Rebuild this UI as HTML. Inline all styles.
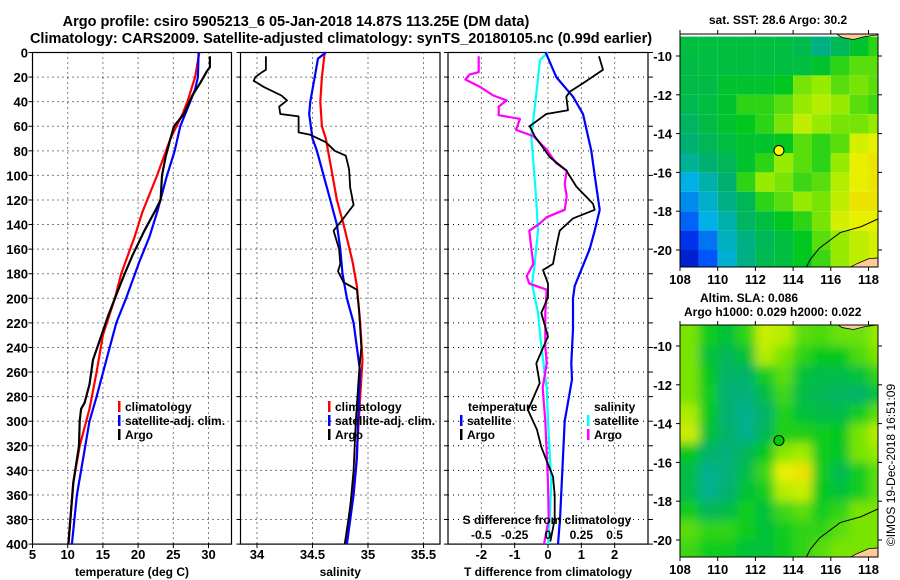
<!DOCTYPE html>
<html><head><meta charset="utf-8"><style>
html,body{margin:0;padding:0;background:#fff;}
svg{display:block;font-family:"Liberation Sans",Arial,sans-serif;font-weight:bold;}
</style></head><body>
<svg id="c" width="900" height="580" viewBox="0 0 900 580" xmlns="http://www.w3.org/2000/svg">
<defs>
<filter id="blur" x="-5%" y="-5%" width="110%" height="110%"><feGaussianBlur stdDeviation="5"/></filter>
<clipPath id="clip1"><rect x="680" y="34" width="198" height="233"/></clipPath>
<clipPath id="clip2"><rect x="680" y="325" width="198" height="232"/></clipPath>
</defs>
<text x="296" y="26" font-size="14.5" text-anchor="middle">Argo profile: csiro 5905213_6 05-Jan-2018 14.87S 113.25E (DM data)</text>
<text x="341" y="43" font-size="14.5" text-anchor="middle">Climatology: CARS2009. Satellite-adjusted climatology: synTS_20180105.nc (0.99d earlier)</text>
<text x="778" y="24" font-size="12" text-anchor="middle">sat. SST: 28.6 Argo: 30.2</text>
<text x="700" y="302" font-size="12">Altim. SLA: 0.086</text>
<text x="684" y="316" font-size="12">Argo h1000: 0.029 h2000: 0.022</text>
<text transform="translate(895,465) rotate(-90)" font-size="12" font-weight="normal" text-anchor="middle">©IMOS 19-Dec-2018 16:51:09</text>
<g id="g"></g>
</svg>
<script>
// ---------- data ----------
const depthTicks = [0,20,40,60,80,100,120,140,160,180,200,220,240,260,280,300,320,340,360,380,400];
const tTicks = [5,10,15,20,25,30];
const sTicks = [34,34.5,35,35.5];
const dtTicks = [-2,-1,0,1,2];
const dsTicks = [-0.5,-0.25,0,0.25,0.5];
const dsTickLabels = ['-0.5','-0.25','0','0.25','0.5'];

const climTdepth = [0,20,40,50,70,100,130,150,180,200,230,260,290,320,350,400];
const climT = [28.7,28.1,27.0,26.3,24.6,22.7,20.6,19.5,17.6,16.7,15.0,14.1,13.1,11.7,10.8,10.1];
const satTdepth = [0,20,30,40,60,80,100,130,150,170,200,220,250,280,300,330,360,400];
const satT = [28.6,28.5,28.1,27.4,26.0,25.2,24.1,22.7,21.6,20.2,18.3,16.9,15.5,14.1,13.1,12.2,11.3,10.6];
const argoTdepth = [3,12,15,25,35,50,60,70,85,100,120,128,145,165,180,200,215,230,250,270,285,290,300,320,350,400];
const argoT = [30.2,30.2,29.8,28.8,27.7,26.5,25.1,24.6,23.9,23.4,23.2,22.5,20.9,19.2,18.1,16.7,15.7,14.8,13.6,13.1,12.4,11.9,11.7,11.6,10.8,10.1];

const climSdepth = [0,20,40,60,70,90,120,140,170,190,220,250,280,310,340,370,400];
const climS = [34.61,34.585,34.57,34.585,34.62,34.66,34.72,34.78,34.86,34.9,34.93,34.95,34.93,34.91,34.89,34.84,34.8];
const satSdepth = [0,5,20,40,50,70,80,100,120,140,160,180,200,220,240,260,300,330,360,400];
const satS = [34.62,34.55,34.52,34.48,34.47,34.5,34.54,34.6,34.66,34.72,34.75,34.77,34.81,34.87,34.9,34.93,34.91,34.9,34.87,34.81];
const argoSdepth = [3,14,16,20,23,28,35,39,44,50,52,65,67,73,80,84,95,110,124,136,145,160,172,178,187,193,210,240,260,300,340,370,400];
const argoS = [34.08,34.08,34.045,33.985,33.97,34.06,34.22,34.27,34.2,34.21,34.375,34.375,34.48,34.62,34.7,34.8,34.83,34.84,34.87,34.77,34.69,34.74,34.75,34.73,34.78,34.9,34.92,34.94,34.92,34.89,34.87,34.84,34.79];

const dTsatDepth = [0,20,36,50,80,100,128,145,160,180,190,200,225,253,266,300,380,400];
const dTsat = [-0.07,0.25,0.75,1.05,1.3,1.4,1.55,1.4,1.25,0.95,0.8,0.75,0.75,0.7,0.72,0.5,0.36,0.3];
const dTargoDepth = [3,14,25,32,36,47,50,60,68,85,96,109,123,128,135,145,158,172,177,188,199,212,231,253,269,291,307,321,335,345,360,380,398];
const dTargo = [1.53,1.65,1.05,0.65,0.55,0.6,-0.05,-0.55,-0.4,0.05,0.55,0.85,1.35,1.4,0.75,0.35,0.25,0.15,-0.15,0,0,-0.2,0,-0.35,-0.25,-0.6,-0.33,-0.2,0,0.15,0.2,0.2,0.07];
const dSsatDepth = [0,6,36,68,117,145,172,188,212,239,273,300,350,380,400];
const dSsat = [0,-0.06,-0.09,-0.125,-0.09,-0.075,-0.1,-0.12,-0.075,-0.05,-0.01,0,0.025,0.012,0];
const dSargoDepth = [3,16,18,22,28,35,39,44,51,54,63,68,79,90,96,107,117,128,134,139,145,155,172,182,188,193,212,239,253,273,300,350,380,400];
const dSargo = [-0.52,-0.52,-0.59,-0.62,-0.51,-0.41,-0.31,-0.37,-0.37,-0.21,-0.24,-0.11,-0.01,0.06,0.14,0.125,0.14,0.125,-0.01,-0.06,-0.14,-0.13,-0.11,-0.16,-0.14,-0.01,-0.02,-0.02,-0.01,-0.04,-0.02,0,0.005,-0.03];

const lonTicks = [108,110,112,114,116,118];
const latTicks = [-10,-12,-14,-16,-18,-20];
const gridLats = [-9.5,-10.5,-11.5,-12.5,-13.5,-14.5,-15.5,-16.5,-17.5,-18.5,-19.5,-20.5];
const gridLons = [108.5,109.5,110.5,111.5,112.5,113.5,114.5,115.5,116.5,117.5,118.5];
const sstGrid = [
[.48,.48,.48,.48,.48,.48,.46,.40,.45,.50,.55],
[.47,.48,.48,.48,.48,.48,.48,.50,.55,.58,.58],
[.47,.47,.50,.50,.50,.52,.60,.62,.58,.60,.58],
[.46,.48,.50,.55,.55,.58,.62,.65,.62,.58,.56],
[.44,.47,.50,.52,.55,.60,.66,.62,.60,.60,.62],
[.42,.45,.48,.50,.50,.52,.58,.55,.58,.68,.70],
[.38,.42,.45,.50,.55,.62,.58,.55,.62,.70,.72],
[.30,.36,.42,.55,.62,.60,.56,.58,.65,.70,.72],
[.25,.33,.40,.45,.55,.58,.62,.60,.66,.72,.72],
[.20,.30,.36,.44,.48,.52,.55,.60,.68,.70,.70],
[.12,.22,.34,.40,.45,.48,.52,.58,.62,.66,.68],
[.08,.18,.32,.40,.46,.48,.52,.56,.62,.66,.68]];
const slaGrid = [
[.60,.53,.49,.55,.67,.65,.58,.57,.59,.59,.62],
[.60,.49,.45,.49,.65,.60,.55,.52,.52,.57,.60],
[.60,.52,.43,.43,.53,.58,.49,.47,.47,.49,.55],
[.60,.53,.42,.41,.47,.56,.47,.45,.44,.43,.49],
[.64,.52,.42,.39,.43,.54,.49,.47,.47,.53,.58],
[.67,.49,.43,.39,.45,.54,.54,.53,.52,.60,.65],
[.52,.43,.41,.45,.52,.61,.63,.53,.51,.60,.62],
[.47,.39,.41,.47,.56,.70,.72,.53,.46,.53,.58],
[.47,.39,.42,.49,.53,.65,.67,.52,.49,.53,.58],
[.53,.45,.47,.53,.49,.56,.58,.53,.55,.60,.60],
[.58,.55,.55,.53,.49,.53,.55,.55,.58,.60,.60],
[.56,.53,.53,.49,.49,.53,.55,.58,.60,.60,.60]];
const coastLon = [118.5,117.6,116.5,115.4,114.9,114.7];
const coastLat = [-18.4,-18.8,-19.1,-19.9,-20.5,-20.9];
const argoLon = 113.25, argoLat = -14.87;

// ---------- scales ----------
const yD = d => 52.5 + d*1.229;
const xT = t => 32.5 + (t-5)*7.04;
const xS = s => 257 + (s-34)*111;
const xDT = t => 548 + t*33.33;
const xDS = s => 548 + s*133.3;
const lonX = l => 680 + (l-108)*18.85;
const latY1 = l => 56 + (-10-l)*19.4;
const latY2 = l => 346 + (-10-l)*19.4;

const NS='http://www.w3.org/2000/svg';
const G=document.getElementById('g');
function mk(tag,attrs,parent){const e=document.createElementNS(NS,tag);for(const k in attrs)e.setAttribute(k,attrs[k]);(parent||G).appendChild(e);return e;}
function txt(x,y,s,size,anchor,parent){const e=mk('text',{x:x,y:y,'font-size':size,'text-anchor':anchor||'start'},parent);e.textContent=s;return e;}

// ---------- profile panels ----------
const panels=[
 {name:'temperature-panel',x0:32.5,x1:231.5,ticks:tTicks,fx:xT,labels:tTicks.map(String),title:'temperature (deg C)'},
 {name:'salinity-panel',x0:240.5,x1:440,ticks:sTicks,fx:xS,labels:['34','34.5','35','35.5'],title:'salinity'},
 {name:'difference-panel',x0:448,x1:648,ticks:dtTicks,fx:xDT,labels:dtTicks.map(String),title:'T difference from climatology'}];
panels.forEach((p,pi)=>{
  const grp=mk('g',{});
  
  
  p.ticks.forEach((t,i)=>{
    const x=p.fx(t);
    const gl=mk('line',{x1:x,x2:x,y1:yD(0),y2:yD(400),stroke:'#000','stroke-width':1,'stroke-dasharray':'1,4'},grp);
    
    
    mk('line',{x1:x,x2:x,y1:yD(400),y2:yD(400)+4,stroke:'#000'},grp);
    const tl=txt(x,559,p.labels[i],13,'middle',grp);
    
    
  });
  depthTicks.forEach(d=>{
    if(d>0&&d<400){
      const gl=mk('line',{x1:p.x0,x2:p.x1,y1:yD(d),y2:yD(d),stroke:'#000','stroke-width':1,'stroke-dasharray':'1,4'},grp);
      
      
    }
    mk('line',{x1:p.x0-4,x2:p.x0,y1:yD(d),y2:yD(d),stroke:'#000'},grp);
    if(pi==2) mk('line',{x1:p.x1,x2:p.x1+5,y1:yD(d),y2:yD(d),stroke:'#000'},grp);
    if(pi==0){
      const dl=txt(28,yD(d)+5,String(d),13,'end',grp);
      
      
    }
  });
  const box=mk('rect',{x:p.x0,y:yD(0),width:p.x1-p.x0,height:yD(400)-yD(0),fill:'none',stroke:'#000','stroke-width':1.2},grp);
  
  
  const at=txt((p.x0+p.x1)/2,576,p.title,12,'middle',grp);
  
  
});

function line(depths,vals,fx,color,name,w){
  const pts=depths.map((d,i)=>fx(vals[i]).toFixed(1)+','+yD(d).toFixed(1)).join(' ');
  const e=mk('polyline',{points:pts,fill:'none',stroke:color,'stroke-width':w||2.2,'stroke-linejoin':'round'});
  
  
}
line(climTdepth,climT,xT,'#ff0000','clim-temperature-line');
line(satTdepth,satT,xT,'#0000ff','sat-temperature-line');
line(argoTdepth,argoT,xT,'#000000','argo-temperature-line');
line(climSdepth,climS,xS,'#ff0000','clim-salinity-line');
line(satSdepth,satS,xS,'#0000ff','sat-salinity-line');
line(argoSdepth,argoS,xS,'#000000','argo-salinity-line',1.8);
line(dSsatDepth,dSsat,xDS,'#00ffff','sat-salinity-diff-line');
line(dSargoDepth,dSargo,xDS,'#ff00ff','argo-salinity-diff-line');
line(dTsatDepth,dTsat,xDT,'#0000ff','sat-temperature-diff-line');
line(dTargoDepth,dTargo,xDT,'#000000','argo-temperature-diff-line',1.8);

// legends
function legend(x,y,color,label,name){
  const g=mk('g',{});
  
  
  mk('rect',{x:x,y:y-10,width:2.5,height:11,fill:color},g);
  txt(x+7,y,label,12,'start',g);
}
legend(118,411,'#ff0000','climatology','legend-entry-climatology');
legend(118,425,'#0000ff','satellite-adj. clim.','legend-entry-satellite-adj');
legend(118,439,'#000000','Argo','legend-entry-argo');
legend(328,411,'#ff0000','climatology','legend-entry-climatology');
legend(328,425,'#0000ff','satellite-adj. clim.','legend-entry-satellite-adj');
legend(328,439,'#000000','Argo','legend-entry-argo');
const lt=txt(468,411,'temperature',12);  
legend(460,425,'#0000ff','satellite','legend-entry-t-satellite');
legend(460,439,'#000000','Argo','legend-entry-t-argo');
const ls=txt(594,411,'salinity',12);  
legend(587,425,'#00ffff','satellite','legend-entry-s-satellite');
legend(587,439,'#ff00ff','Argo','legend-entry-s-argo');
const st=txt(547,524,'S difference from climatology',12,'middle');  
dsTicks.forEach((s,i)=>{
  const e=txt(xDS(s),539,dsTickLabels[i],12,'middle');
  
  
});

// ---------- maps ----------
const stops=[[0,[0,0,150]],[0.15,[0,64,255]],[0.3,[0,176,230]],[0.42,[0,176,112]],[0.52,[0,200,30]],[0.62,[150,235,0]],[0.7,[232,240,0]],[0.8,[255,176,0]],[0.9,[224,64,0]],[1,[160,0,0]]];
function cmap(v){for(let i=1;i<stops.length;i++){if(v<=stops[i][0]){const a=stops[i-1],b=stops[i],f=(v-a[0])/(b[0]-a[0]);return 'rgb('+a[1].map((c,k)=>Math.round(c+(b[1][k]-c)*f)).join(',')+')';}}return 'rgb(160,0,0)';}
function map(grid,latY,clip,y0,y1,blur,name,marker){
  const mg=mk('g',{});
  
  
  const cg=mk('g',{'clip-path':'url(#'+clip+')'},mg);
  const cells=mk('g',blur?{filter:'url(#blur)'}:{},cg);
  grid.forEach((row,r)=>row.forEach((v,c)=>{
    const e=mk('rect',{x:lonX(gridLons[c]-0.5-(blur?1:0)*(c==0)),y:latY(gridLats[r]+0.5+(blur?1:0)*(r==0)),width:18.85+(blur&&c==0?18.85:0)+(blur&&c==row.length-1?19:0),height:19.4+(blur&&r==0?19.4:0)+(blur&&r==grid.length-1?19.4:0),fill:cmap(v)},cells);
    
    
  }));
  const land=mk('polygon',{points:[[118.6,-20.4],[118.0,-20.45],[117.4,-20.7],[117.0,-20.9],[118.6,-20.9]].map(p=>lonX(p[0])+','+latY(p[1])).join(' '),fill:'#ffcc99',stroke:'#000','stroke-width':0.8},cg);
  
  
  const land2=mk('polygon',{points:[[116.2,-8.8],[116.6,-9.05],[117.2,-9.15],[117.8,-9.0],[118.6,-8.9],[118.6,-8.8]].map(p=>lonX(p[0])+','+latY(p[1])).join(' '),fill:'#ffcc99',stroke:'#000','stroke-width':0.8},cg);
  
  
  const coast=mk('polyline',{points:coastLon.map((l,i)=>lonX(l)+','+latY(coastLat[i])).join(' '),fill:'none',stroke:'#000','stroke-width':1},cg);
  
  
  const m=mk('circle',{cx:lonX(argoLon),cy:latY(argoLat),r:5,fill:marker,stroke:'#000','stroke-width':1},mg);
  
  
  mk('rect',{x:680,y:y0,width:198,height:y1-y0,fill:'none',stroke:'#000','stroke-width':1},mg);
  lonTicks.forEach(l=>{
    mk('line',{x1:lonX(l),x2:lonX(l),y1:y1,y2:y1+4,stroke:'#000'},mg);
    mk('line',{x1:lonX(l),x2:lonX(l),y1:y0,y2:y0-4,stroke:'#000'},mg);
    const t=txt(lonX(l),y1+17,String(l),13,'middle',mg);
    
    
  });
  latTicks.forEach(l=>{
    mk('line',{x1:676,x2:680,y1:latY(l),y2:latY(l),stroke:'#000'},mg);
    mk('line',{x1:878,x2:882,y1:latY(l),y2:latY(l),stroke:'#000'},mg);
    const t=txt(672,latY(l)+5,String(l),13,'end',mg);
    
    
  });
}
map(sstGrid,latY1,'clip1',34,267,false,'sst-map','#ffff00');
map(slaGrid,latY2,'clip2',325,557,true,'sla-map','#00cc00');
</script>
</body></html>
